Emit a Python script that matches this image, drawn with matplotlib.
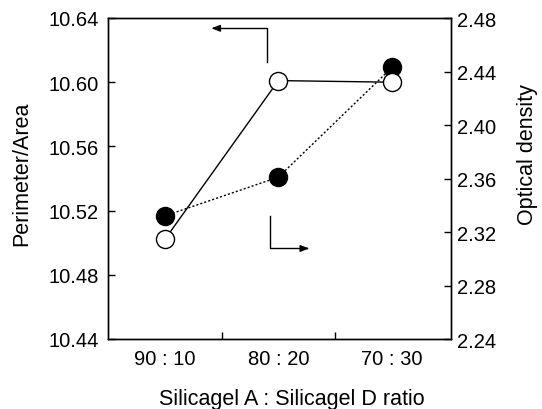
import matplotlib
matplotlib.use("Agg")
import matplotlib.pyplot as plt
from matplotlib.ticker import FixedLocator

plt.rcParams['font.family'] = ['Liberation Sans', 'DejaVu Sans']

categories = ["90 : 10", "80 : 20", "70 : 30"]
perimeter_area = [10.502, 10.601, 10.600]
optical_density = [2.332, 2.361, 2.443]
left_ticks = [10.44, 10.48, 10.52, 10.56, 10.60, 10.64]
right_ticks = [2.24, 2.28, 2.32, 2.36, 2.40, 2.44, 2.48]

W, H = 542, 410
fig = plt.figure(figsize=(W / 100, H / 100), dpi=100)
ax = fig.add_axes([108 / W, 70 / H, 343 / W, 321 / H])
ax2 = ax.twinx()

x = list(range(len(categories)))

ax2.plot(x, optical_density, linestyle=(0, (1.5, 1.5)), color='black', linewidth=1.0,
         marker='o', markersize=13, markerfacecolor='black', markeredgecolor='black', zorder=2)
ax.plot(x, perimeter_area, linestyle='-', color='black', linewidth=1.0,
        marker='o', markersize=13, markerfacecolor='white', markeredgecolor='black',
        markeredgewidth=1.0, zorder=3)

ax.set_zorder(ax2.get_zorder() + 1)
ax.patch.set_visible(False)

ax.set_xlim(-0.5, 2.52)
ax.set_ylim(10.44, 10.64)
ax2.set_ylim(2.24, 2.48)
ax.set_yticks(left_ticks)
ax.set_yticklabels([f"{v:.2f}" for v in left_ticks])
ax2.set_yticks(right_ticks)
ax2.set_yticklabels([f"{v:.2f}" for v in right_ticks])
ax.set_xticks(x)
ax.set_xticklabels(categories)
ax.xaxis.set_minor_locator(FixedLocator([0.5, 1.5]))

fs_tick = 14.5
ax.tick_params(axis='x', which='major', length=0, pad=7, labelsize=fs_tick)
ax.tick_params(axis='x', which='minor', direction='in', length=5, width=1)
ax.tick_params(axis='y', direction='in', length=5, width=1, pad=6.5, labelsize=fs_tick)
ax2.tick_params(axis='y', direction='in', length=5, width=1, pad=4.5, labelsize=fs_tick)

fs_lab = 15.5
fig.text(22 / W, 1 - 174 / H, "Perimeter/Area", rotation=90, ha='center', va='center', fontsize=fs_lab)
fig.text(527 / W, 1 - 155 / H, "Optical density", rotation=90, ha='center', va='center', fontsize=fs_lab)
fig.text(292 / W, 1 - 400 / H, "Silicagel A : Silicagel D ratio", ha='center', va='center', fontsize=fs_lab)

for a in (ax, ax2):
    for s in a.spines.values():
        s.set_linewidth(1.0)

# indicator arrows (axes fraction)
ax.plot([0.463, 0.463, 0.31], [0.863, 0.968, 0.968], color='black', lw=1.0,
        transform=ax.transAxes, clip_on=False)
ax.annotate("", xy=(0.294, 0.968), xytext=(0.32, 0.968), xycoords='axes fraction',
            arrowprops=dict(arrowstyle='-|>,head_length=0.5,head_width=0.2', color='black', lw=1.0))
ax.plot([0.471, 0.471, 0.58], [0.384, 0.282, 0.282], color='black', lw=1.0,
        transform=ax.transAxes, clip_on=False)
ax.annotate("", xy=(0.594, 0.282), xytext=(0.57, 0.282), xycoords='axes fraction',
            arrowprops=dict(arrowstyle='-|>,head_length=0.5,head_width=0.2', color='black', lw=1.0))

fig.savefig("out.png", dpi=100)
